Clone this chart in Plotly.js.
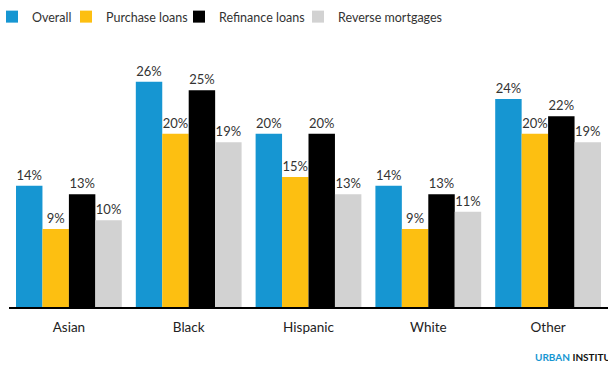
<!DOCTYPE html>
<html>
<head>
<meta charset="utf-8">
<script src="https://cdn.plot.ly/plotly-3.0.1.min.js"></script>
<style>html,body{margin:0;padding:0;background:#fff;}#chart{width:608px;height:368px;}</style>
</head>
<body>
<div id="chart"></div>
<script>
const categories = ["Asian", "Black", "Hispanic", "White", "Other"];
const seriesNames = ["Overall", "Purchase loans", "Refinance loans", "Reverse mortgages"];
const overall = [14, 26, 20, 14, 24];
const purchase = [9, 20, 15, 9, 20];
const refinance = [13, 25, 20, 13, 22];
const reverse = [10, 19, 13, 11, 19];
const colors = ["#1696d2", "#fdbf11", "#000000", "#d2d2d2"];

const values = [overall, purchase, refinance, reverse];
const legendIds = ["legend", "legend2", "legend3", "legend4"];
const traces = values.map((v, i) => ({
  type: "bar",
  name: seriesNames[i],
  legend: legendIds[i],
  x: categories,
  y: v,
  marker: {color: colors[i]},
  text: v.map(d => d + "%"),
  textposition: "outside",
  cliponaxis: false,
  textfont: {family: "Lato", size: 13, color: "#333"},
  hoverinfo: "skip"
}));

// legend text starting positions (px) as in the reference
const legendTextX = [40, 106, 219, 338];

const layout = {
  width: 608, height: 368,
  margin: {l: 9, r: 0, t: 47, b: 61},
  paper_bgcolor: "#fff", plot_bgcolor: "#fff",
  barmode: "group", bargap: 0.117, bargroupgap: 0,
  font: {family: "Lato", color: "#222"},
  showlegend: true,
  xaxis: {showline: true, linecolor: "#000", linewidth: 2, ticks: "outside", ticklen: 7, tickcolor: "rgba(0,0,0,0)",
          showgrid: false, zeroline: false,
          tickfont: {family: "Lato", size: 13.5, color: "#222"}, fixedrange: true},
  yaxis: {range: [0, 30], visible: false, showgrid: false, zeroline: false, fixedrange: true},
  annotations: [{
    xref: "paper", yref: "paper", x: (533 - 9) / 599, y: -(357 - 307) / 260, xanchor: "left", yanchor: "middle",
    text: "<b><span style='color:#1696d2'>URBAN</span> INSTITUTE</b>", showarrow: false,
    font: {family: "Lato", size: 10, color: "#111"}
  }]
};
legendIds.forEach((id, i) => {
  layout[id] = {orientation: "h", x: (legendTextX[i] - 40) / 608, xanchor: "left", xref: "container",
                y: 1 - 17 / 368, yref: "container", yanchor: "middle", bgcolor: "rgba(0,0,0,0)",
                font: {family: "Lato", size: 12.5, color: "#333"}, itemclick: false};
});
layout.legend.indentation = -8;
Plotly.newPlot("chart", traces, layout, {displayModeBar: false, staticPlot: true});
</script>
</body>
</html>
